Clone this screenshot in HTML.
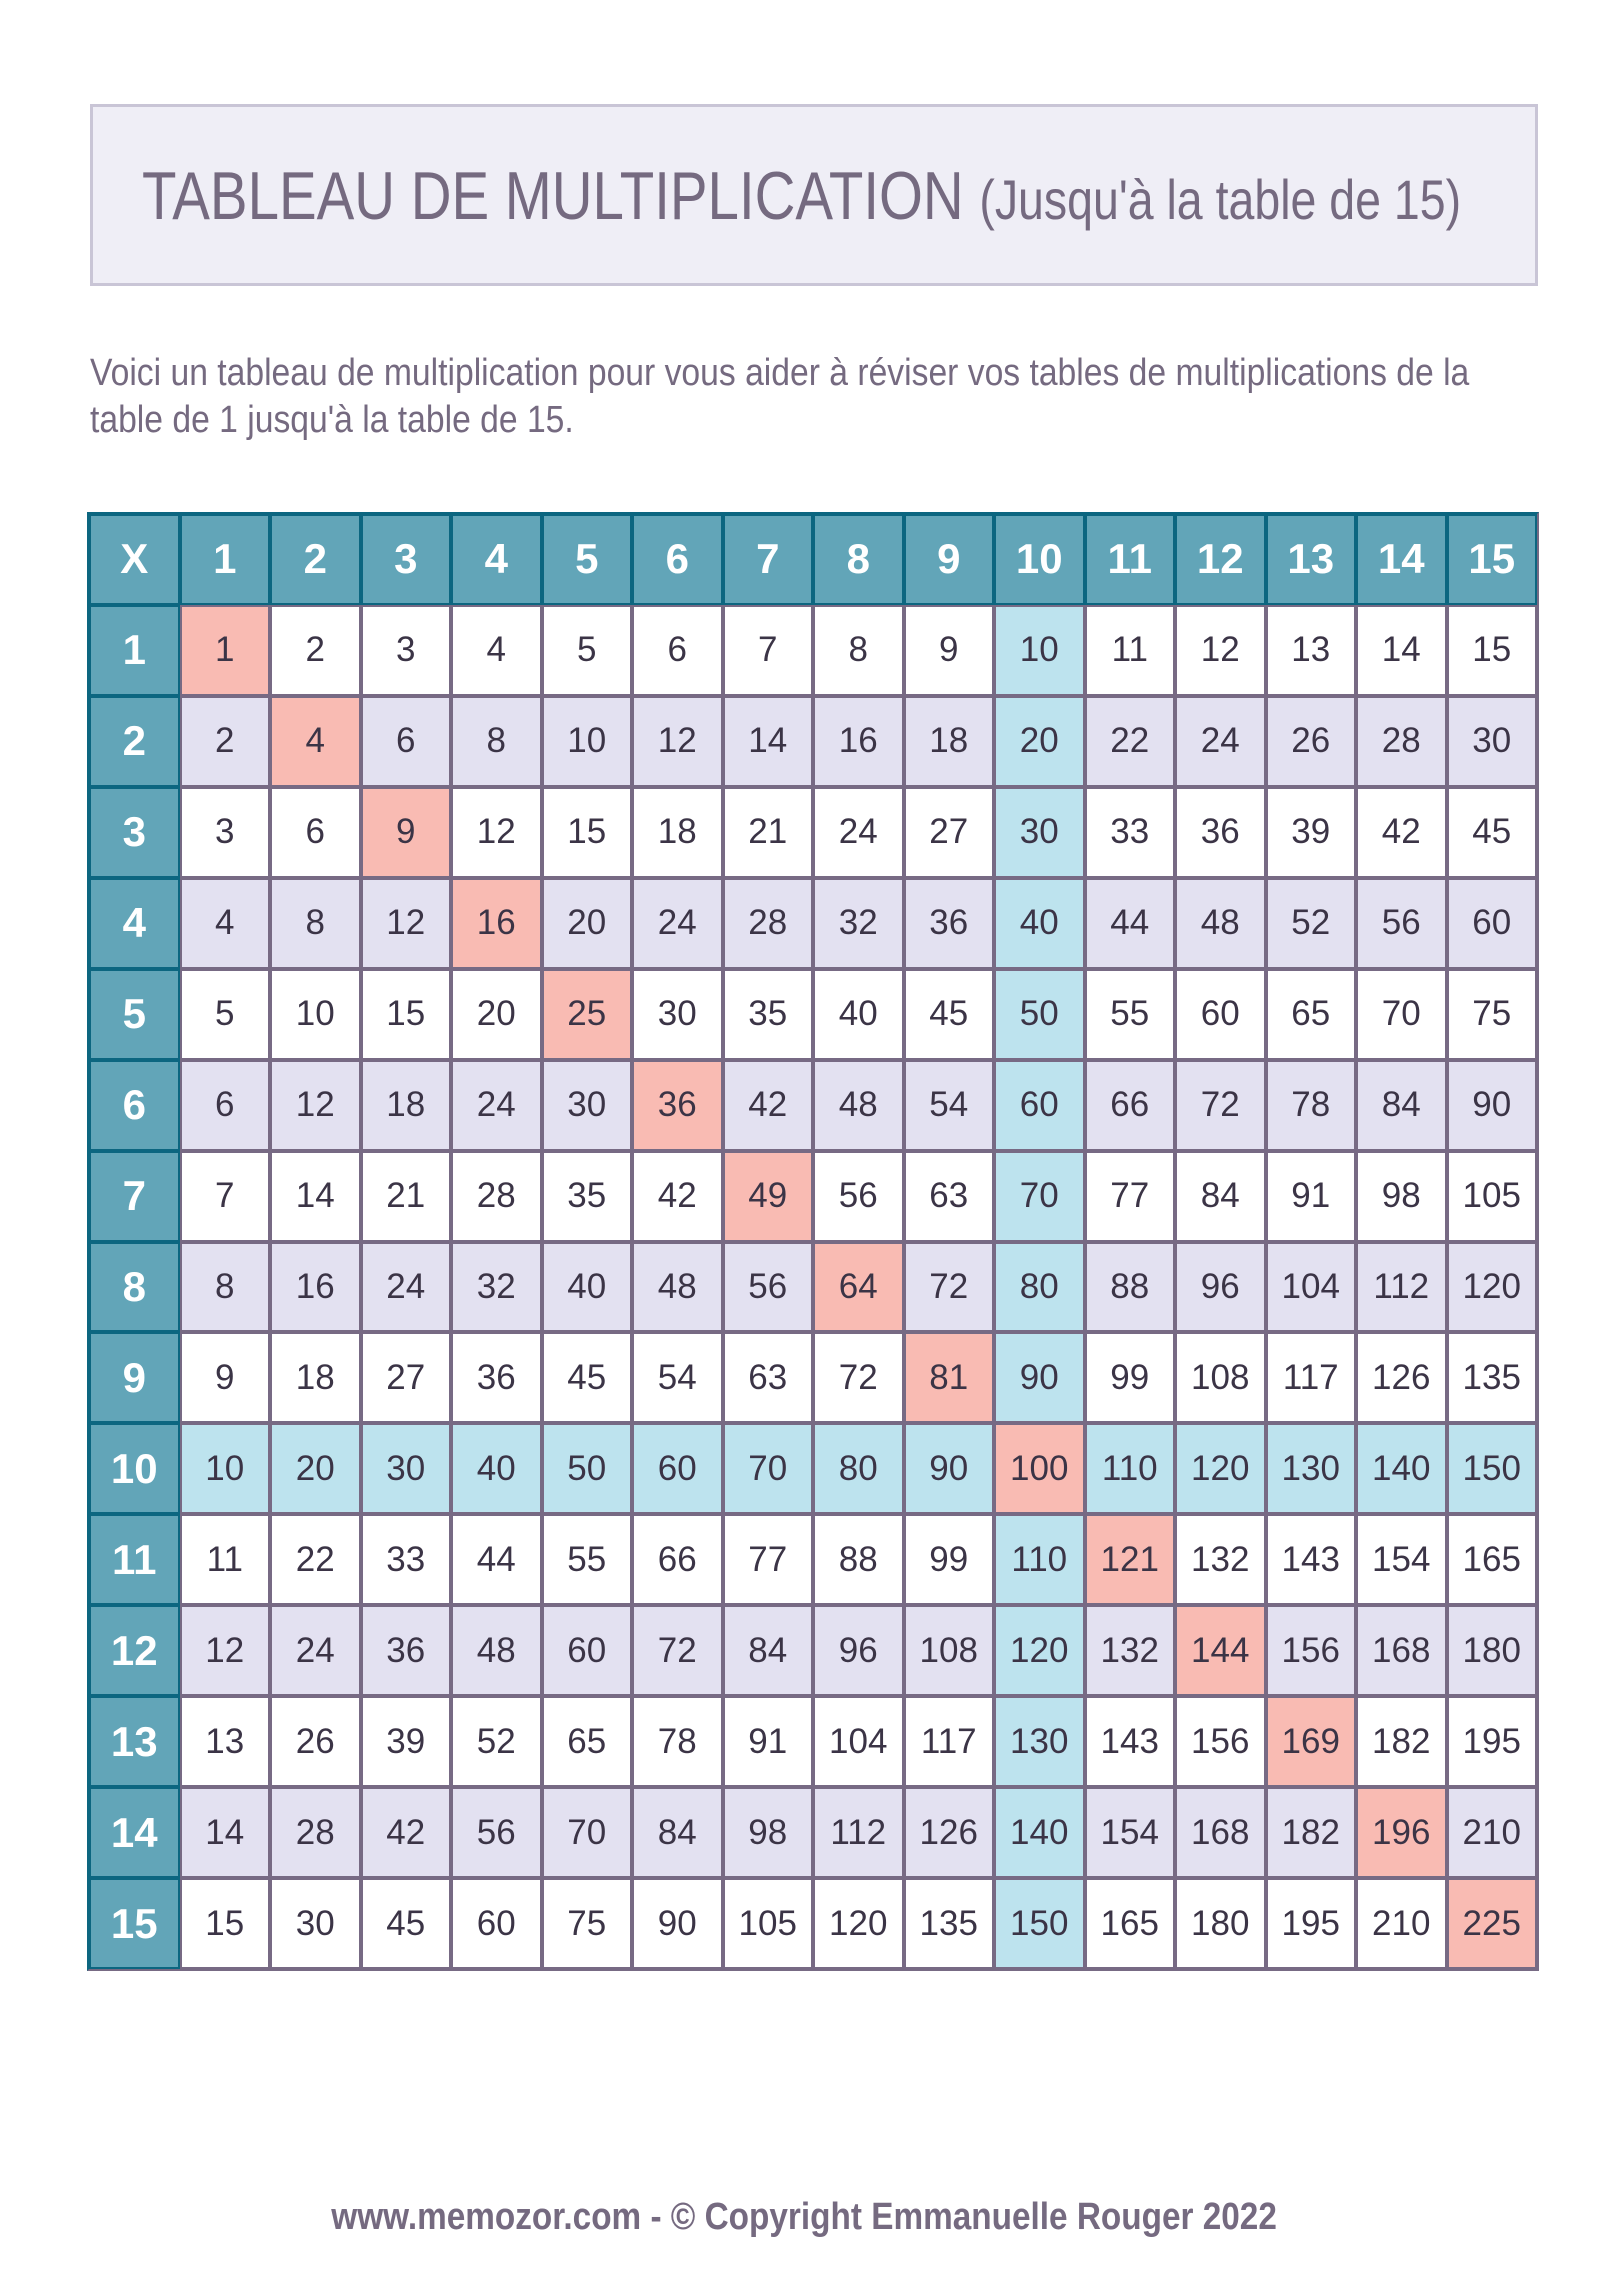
<!DOCTYPE html>
<html><head><meta charset="utf-8">
<style>
body{margin:0;width:1608px;height:2274px;background:#fff;position:relative;overflow:hidden;font-family:"Liberation Sans",sans-serif}
.tb{position:absolute;left:90px;top:104px;width:1442px;height:176px;background:#efeef6;border:3px solid #c9c5d6}
.tt{position:absolute;left:142px;top:162px;white-space:nowrap;color:#756a80;font-size:68px;transform:scaleX(0.83);transform-origin:left top;line-height:1}
.tt span{font-size:56px}
.pp{position:absolute;left:90px;top:350px;color:#756a80;font-size:38px;line-height:47px;white-space:nowrap;transform:scaleX(0.886);transform-origin:left top}
table{position:absolute;left:87px;top:512px;width:1452px;height:1459px;border-collapse:separate;border-spacing:0;table-layout:fixed;border:2px solid #776a84;border-left-color:#0c6680;border-top-color:#0c6680}
td,th{border:2px solid #776a84;text-align:center;padding:0;font-size:35px;color:#3b3446;background:#fff}
th{background:#62a5b8;border-color:#0c6680;color:#fff;font-size:42px;font-weight:bold}
tr.e td{background:#e3e1f1}
td.b,tr.e td.b,tr.t td{background:#bde3ee}
td.p,tr.e td.p,tr.t td.p{background:#f9bbb3}
.ft{position:absolute;left:0;width:1608px;top:2196px;text-align:center;color:#756a80;font-size:38px;font-weight:bold}
.ft span{display:inline-block;transform:scaleX(0.877)}
</style></head><body>
<div class="tb"></div>
<div class="tt">TABLEAU DE MULTIPLICATION <span>(Jusqu'à la table de 15)</span></div>
<div class="pp">Voici un tableau de multiplication pour vous aider à réviser vos tables de multiplications de la<br>table de 1 jusqu'à la table de 15.</div>
<table>
<tr><th>X</th><th>1</th><th>2</th><th>3</th><th>4</th><th>5</th><th>6</th><th>7</th><th>8</th><th>9</th><th>10</th><th>11</th><th>12</th><th>13</th><th>14</th><th>15</th></tr>
<tr><th>1</th><td class="p">1</td><td>2</td><td>3</td><td>4</td><td>5</td><td>6</td><td>7</td><td>8</td><td>9</td><td class="b">10</td><td>11</td><td>12</td><td>13</td><td>14</td><td>15</td></tr>
<tr class="e"><th>2</th><td>2</td><td class="p">4</td><td>6</td><td>8</td><td>10</td><td>12</td><td>14</td><td>16</td><td>18</td><td class="b">20</td><td>22</td><td>24</td><td>26</td><td>28</td><td>30</td></tr>
<tr><th>3</th><td>3</td><td>6</td><td class="p">9</td><td>12</td><td>15</td><td>18</td><td>21</td><td>24</td><td>27</td><td class="b">30</td><td>33</td><td>36</td><td>39</td><td>42</td><td>45</td></tr>
<tr class="e"><th>4</th><td>4</td><td>8</td><td>12</td><td class="p">16</td><td>20</td><td>24</td><td>28</td><td>32</td><td>36</td><td class="b">40</td><td>44</td><td>48</td><td>52</td><td>56</td><td>60</td></tr>
<tr><th>5</th><td>5</td><td>10</td><td>15</td><td>20</td><td class="p">25</td><td>30</td><td>35</td><td>40</td><td>45</td><td class="b">50</td><td>55</td><td>60</td><td>65</td><td>70</td><td>75</td></tr>
<tr class="e"><th>6</th><td>6</td><td>12</td><td>18</td><td>24</td><td>30</td><td class="p">36</td><td>42</td><td>48</td><td>54</td><td class="b">60</td><td>66</td><td>72</td><td>78</td><td>84</td><td>90</td></tr>
<tr><th>7</th><td>7</td><td>14</td><td>21</td><td>28</td><td>35</td><td>42</td><td class="p">49</td><td>56</td><td>63</td><td class="b">70</td><td>77</td><td>84</td><td>91</td><td>98</td><td>105</td></tr>
<tr class="e"><th>8</th><td>8</td><td>16</td><td>24</td><td>32</td><td>40</td><td>48</td><td>56</td><td class="p">64</td><td>72</td><td class="b">80</td><td>88</td><td>96</td><td>104</td><td>112</td><td>120</td></tr>
<tr><th>9</th><td>9</td><td>18</td><td>27</td><td>36</td><td>45</td><td>54</td><td>63</td><td>72</td><td class="p">81</td><td class="b">90</td><td>99</td><td>108</td><td>117</td><td>126</td><td>135</td></tr>
<tr class="t"><th>10</th><td>10</td><td>20</td><td>30</td><td>40</td><td>50</td><td>60</td><td>70</td><td>80</td><td>90</td><td class="p">100</td><td>110</td><td>120</td><td>130</td><td>140</td><td>150</td></tr>
<tr><th>11</th><td>11</td><td>22</td><td>33</td><td>44</td><td>55</td><td>66</td><td>77</td><td>88</td><td>99</td><td class="b">110</td><td class="p">121</td><td>132</td><td>143</td><td>154</td><td>165</td></tr>
<tr class="e"><th>12</th><td>12</td><td>24</td><td>36</td><td>48</td><td>60</td><td>72</td><td>84</td><td>96</td><td>108</td><td class="b">120</td><td>132</td><td class="p">144</td><td>156</td><td>168</td><td>180</td></tr>
<tr><th>13</th><td>13</td><td>26</td><td>39</td><td>52</td><td>65</td><td>78</td><td>91</td><td>104</td><td>117</td><td class="b">130</td><td>143</td><td>156</td><td class="p">169</td><td>182</td><td>195</td></tr>
<tr class="e"><th>14</th><td>14</td><td>28</td><td>42</td><td>56</td><td>70</td><td>84</td><td>98</td><td>112</td><td>126</td><td class="b">140</td><td>154</td><td>168</td><td>182</td><td class="p">196</td><td>210</td></tr>
<tr><th>15</th><td>15</td><td>30</td><td>45</td><td>60</td><td>75</td><td>90</td><td>105</td><td>120</td><td>135</td><td class="b">150</td><td>165</td><td>180</td><td>195</td><td>210</td><td class="p">225</td></tr>
</table>
<div class="ft"><span>www.memozor.com - © Copyright Emmanuelle Rouger 2022</span></div>
</body></html>
